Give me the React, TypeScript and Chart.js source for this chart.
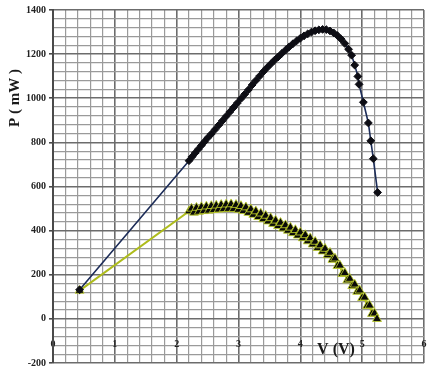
import React, { useEffect, useRef } from "react";
import { Chart, registerables } from "chart.js";

Chart.register(...registerables);

// Power–voltage characteristics (P in mW against V in volts)
const seriesAVoltage = [
  0.43,
  2.2, 2.25, 2.3, 2.35, 2.4, 2.45, 2.5, 2.56, 2.62, 2.68, 2.74, 2.8, 2.86, 2.92, 2.98,
  3.04, 3.1, 3.16, 3.22, 3.28, 3.34, 3.4, 3.46, 3.52, 3.58, 3.64, 3.7, 3.76, 3.82,
  3.88, 3.94, 4.0, 4.06, 4.12, 4.18, 4.24, 4.3, 4.36, 4.42, 4.48, 4.54, 4.6, 4.66,
  4.72, 4.78, 4.83, 4.88, 4.93, 4.95, 5.02, 5.1, 5.14, 5.18, 5.25,
];
const seriesAPower = [
  132,
  717, 735, 752, 769, 786, 803, 820, 838, 858, 878, 898, 918, 938, 958, 978,
  998, 1018, 1038, 1060, 1080, 1100, 1120, 1138, 1155, 1172, 1187, 1203, 1218, 1233,
  1247, 1260, 1272, 1283, 1292, 1300, 1306, 1310, 1312, 1311, 1305, 1296, 1284, 1268,
  1248, 1222, 1195, 1150, 1099, 1063, 982, 888, 807, 726, 573,
];

const seriesBVoltage = [
  0.43,
  2.2, 2.24, 2.28, 2.32, 2.36, 2.4, 2.44, 2.48, 2.52, 2.56, 2.6, 2.64, 2.68, 2.72, 2.76,
  2.8, 2.84, 2.88, 2.92, 2.96, 3.0, 3.04, 3.08, 3.12, 3.16, 3.2, 3.24, 3.28, 3.32, 3.36,
  3.4, 3.44, 3.48, 3.52, 3.56, 3.6, 3.64, 3.68, 3.72, 3.76, 3.8, 3.84, 3.88, 3.92, 3.96,
  4.0, 4.04, 4.08, 4.12, 4.16, 4.2, 4.24, 4.28, 4.32, 4.36, 4.4, 4.44, 4.48, 4.52, 4.56,
  4.6, 4.64, 4.68, 4.72, 4.76, 4.8, 4.84, 4.88, 4.92, 4.96, 5.0, 5.04, 5.08, 5.12, 5.16,
  5.2, 5.24,
];
const seriesBPower = [
  128,
  488, 500, 482, 504, 486, 507, 489, 510, 491, 512, 494, 514, 496, 517, 498,
  519, 499, 520, 498, 517, 495, 512, 489, 506, 481, 497, 472, 488, 462, 478,
  452, 468, 442, 457, 431, 446, 421, 436, 410, 425, 400, 414, 389, 403, 378,
  392, 366, 380, 352, 366, 338, 350, 322, 334, 306, 318, 289, 300, 268, 274,
  240, 242, 204, 208, 175, 182, 149, 156, 123, 129, 95, 97, 59, 61, 23,
  25, 0,
];

// Axis ranges and labelled tick spacing
const xMin = 0;
const xMax = 6;
const xMinorStep = 0.2;
const yMin = -200;
const yMax = 1400;
const yMinorStep = 40;
const yLabelStep = 200;

const yTitle = "P ( mW )";
const xTitle = "V (V)";

const serif = "'Liberation Serif', 'Times New Roman', serif";

const isInteger = (v: number) => Math.abs(v - Math.round(v)) < 1e-6;
const isYMajor = (v: number) => Math.abs(v % yLabelStep) < 1e-6;

const axisTitles = {
  id: "axisTitles",
  afterDraw(chart: Chart) {
    const { ctx } = chart;
    ctx.save();
    ctx.fillStyle = "#1a1a1a";
    ctx.font = `bold 15px ${serif}`;
    ctx.textAlign = "center";
    ctx.textBaseline = "middle";
    ctx.translate(15, 98);
    ctx.rotate(-Math.PI / 2);
    ctx.fillText(yTitle, 0, 0);
    ctx.restore();

    ctx.save();
    ctx.fillStyle = "#1a1a1a";
    ctx.font = `bold 16px ${serif}`;
    ctx.textAlign = "center";
    ctx.textBaseline = "middle";
    ctx.fillText(xTitle, 336, 350);
    ctx.restore();
  },
};

export default function App() {
  const canvasRef = useRef<HTMLCanvasElement | null>(null);

  useEffect(() => {
    if (!canvasRef.current) return;
    const toPoints = (xs: number[], ys: number[]) =>
      xs.map((x, i) => ({ x, y: ys[i] }));

    const chart = new Chart(canvasRef.current, {
      type: "line",
      data: {
        datasets: [
          {
            data: toPoints(seriesAVoltage, seriesAPower),
            borderColor: "#1c2c58",
            borderWidth: 1.6,
            pointStyle: "rectRot",
            pointRadius: 3.9,
            pointBackgroundColor: "#0d0d14",
            pointBorderColor: "#0d0d14",
            pointBorderWidth: 1,
            tension: 0,
          },
          {
            data: toPoints(seriesBVoltage, seriesBPower),
            borderColor: "#aebc1c",
            borderWidth: 2,
            pointStyle: "triangle",
            pointRadius: 5.2,
            pointBackgroundColor: "#0a0a0a",
            pointBorderColor: "#c4d42a",
            pointBorderWidth: 0.8,
            tension: 0,
          },
        ],
      },
      options: {
        animation: false,
        responsive: true,
        maintainAspectRatio: false,
        parsing: false,
        layout: { padding: { left: 23, top: 10, right: 0, bottom: 0 } },
        plugins: {
          legend: { display: false },
          tooltip: { enabled: false },
        },
        scales: {
          x: {
            type: "linear",
            min: xMin,
            max: xMax,
            position: { y: 0 },
            border: { display: false },
            grid: {
              drawTicks: true,
              tickLength: 20,
              tickColor: "rgba(0,0,0,0)",
              color: (c: any) => (isInteger(c.tick.value) ? "#6c6c6c" : "#9a9a9a"),
              lineWidth: (c: any) => (isInteger(c.tick.value) ? 1.6 : 1.2),
            },
            ticks: {
              stepSize: xMinorStep,
              autoSkip: false,
              maxRotation: 0,
              padding: 0,
              color: "#222",
              font: { family: serif, size: 10, weight: "bold" },
              callback: (v: any) => (isInteger(Number(v)) ? String(Math.round(Number(v))) : ""),
            },
          },
          y: {
            type: "linear",
            min: yMin,
            max: yMax,
            border: { display: true, color: "#4a4a4a", width: 2 },
            grid: {
              tickLength: 4,
              color: (c: any) => (isYMajor(c.tick.value) ? "#6c6c6c" : "#9a9a9a"),
              lineWidth: (c: any) => (isYMajor(c.tick.value) ? 1.6 : 1.2),
              tickColor: (c: any) => (isYMajor(c.tick.value) ? "#4a4a4a" : "rgba(0,0,0,0)"),
            },
            ticks: {
              stepSize: yMinorStep,
              autoSkip: false,
              padding: 3,
              color: "#222",
              font: { family: serif, size: 10, weight: "bold", lineHeight: 0.8 },
              callback: (v: any) => (isYMajor(Number(v)) ? String(v) : ""),
            },
          },
        },
      },
      plugins: [axisTitles],
    });

    return () => chart.destroy();
  }, []);

  return (
    <div style={{ position: "absolute", left: 0, top: 0, width: 430, height: 370, background: "#fff" }}>
      <canvas ref={canvasRef} />
    </div>
  );
}
